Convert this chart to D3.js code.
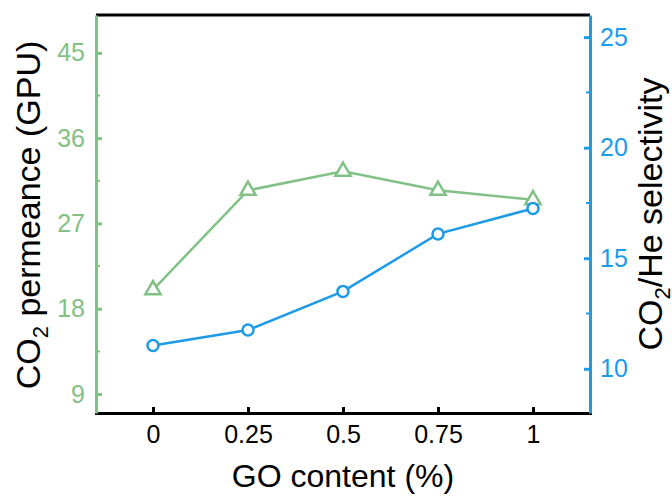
<!DOCTYPE html>
<html>
<head>
<meta charset="utf-8">
<script src="https://cdn.jsdelivr.net/npm/d3@7"></script>
<style>
  body { margin: 0; background: #fff; }
  svg { font-family: "Liberation Sans", Arial, sans-serif; }
</style>
</head>
<body>
<svg width="672" height="497"></svg>
<script>
const goContent = [0, 0.25, 0.5, 0.75, 1];
const permeance = [20, 30.5, 32.5, 30.5, 29.5];
const selectivity = [11.05, 11.75, 13.5, 16.1, 17.25];
const xTicks = [0, 0.25, 0.5, 0.75, 1];
const leftTicks = [9, 18, 27, 36, 45];
const leftMinor = [13.5, 22.5, 31.5, 40.5];
const rightTicks = [10, 15, 20, 25];
const rightMinor = [12.5, 17.5, 22.5];

const green = '#82c185';
const blue = '#1e9be6';
const fontFam = '"Liberation Sans", Arial, sans-serif';

const svg = d3.select('svg');
const margin = { top: 15, right: 82, bottom: 84, left: 96 };
const width = +svg.attr('width');
const height = +svg.attr('height');
const innerWidth = width - margin.left - margin.right;
const innerHeight = height - margin.top - margin.bottom;

const g = svg.append('g')
    .attr('transform', `translate(${margin.left},${margin.top})`);

const xScale = d3.scaleLinear().domain([-0.15, 1.15]).range([0, innerWidth]);
const yLeft = d3.scaleLinear().domain([7, 49]).range([innerHeight, 0]);
const yRight = d3.scaleLinear().domain([8, 26]).range([innerHeight, 0]);

// top frame line
g.append('line')
    .attr('x1', 0).attr('x2', innerWidth)
    .attr('y1', 0).attr('y2', 0)
    .attr('stroke', '#000').attr('stroke-width', 3);

// style an axis group: colour, widths, font
const styleAxis = (ax, color) => {
    ax.attr('font-size', 25).attr('font-family', fontFam);
    ax.select('.domain').attr('stroke', color).attr('stroke-width', 3);
    ax.selectAll('.tick line').attr('stroke', color).attr('stroke-width', 3);
    ax.selectAll('.tick text').attr('fill', color);
};

// x axis
const xAxis = g.append('g')
    .attr('transform', `translate(0,${innerHeight})`)
    .call(d3.axisBottom(xScale).tickValues(xTicks).tickSize(-6).tickPadding(12)
        .tickFormat(d => String(d)));
styleAxis(xAxis, '#000');

// left axis
const lAxis = g.append('g')
    .call(d3.axisLeft(yLeft).tickValues(leftTicks).tickSize(-6).tickPadding(11).tickSizeOuter(0));
styleAxis(lAxis, green);
g.append('g').selectAll('line').data(leftMinor).join('line')
    .attr('x1', 0).attr('x2', 4)
    .attr('y1', d => yLeft(d)).attr('y2', d => yLeft(d))
    .attr('stroke', green).attr('stroke-width', 2);

// right axis
const rAxis = g.append('g')
    .attr('transform', `translate(${innerWidth},0)`)
    .call(d3.axisRight(yRight).tickValues(rightTicks).tickSize(-6).tickPadding(10).tickSizeOuter(0));
styleAxis(rAxis, blue);
g.append('g').selectAll('line').data(rightMinor).join('line')
    .attr('x1', innerWidth).attr('x2', innerWidth - 4)
    .attr('y1', d => yRight(d)).attr('y2', d => yRight(d))
    .attr('stroke', blue).attr('stroke-width', 2);

// permeance series
const permData = goContent.map((x, i) => ({ x, y: permeance[i] }));
g.append('path').datum(permData)
    .attr('fill', 'none').attr('stroke', green).attr('stroke-width', 2.5)
    .attr('d', d3.line().x(d => xScale(d.x)).y(d => yLeft(d.y)));
g.selectAll('.tri').data(permData).join('path')
    .attr('class', 'tri')
    .attr('transform', d => `translate(${xScale(d.x)},${yLeft(d.y)})`)
    .attr('d', d3.symbol(d3.symbolTriangle, 100))
    .attr('fill', '#fff').attr('stroke', green).attr('stroke-width', 2.5);

// selectivity series
const selData = goContent.map((x, i) => ({ x, y: selectivity[i] }));
g.append('path').datum(selData)
    .attr('fill', 'none').attr('stroke', blue).attr('stroke-width', 2.5)
    .attr('d', d3.line().x(d => xScale(d.x)).y(d => yRight(d.y)));
g.selectAll('.circ').data(selData).join('circle')
    .attr('class', 'circ')
    .attr('cx', d => xScale(d.x)).attr('cy', d => yRight(d.y))
    .attr('r', 5.5)
    .attr('fill', '#fff').attr('stroke', blue).attr('stroke-width', 2.5);

// axis titles
svg.append('text')
    .attr('x', margin.left + xScale(0.5)).attr('y', 487)
    .attr('text-anchor', 'middle').attr('font-size', 32).attr('fill', '#000')
    .text('GO content (%)');

const lt = svg.append('text')
    .attr('transform', 'translate(40,215) rotate(-90)')
    .attr('text-anchor', 'middle').attr('font-size', 34).attr('fill', '#000');
lt.append('tspan').text('CO');
lt.append('tspan').attr('font-size', 22).attr('dy', 8).text('2');
lt.append('tspan').attr('dy', -8).text(' permeance (GPU)');

const rt = svg.append('text')
    .attr('transform', 'translate(662,214) rotate(-90)')
    .attr('text-anchor', 'middle').attr('font-size', 34).attr('fill', '#000');
rt.append('tspan').text('CO');
rt.append('tspan').attr('font-size', 22).attr('dy', 8).text('2');
rt.append('tspan').attr('dy', -8).text('/He selectivity');
</script>
</body>
</html>
